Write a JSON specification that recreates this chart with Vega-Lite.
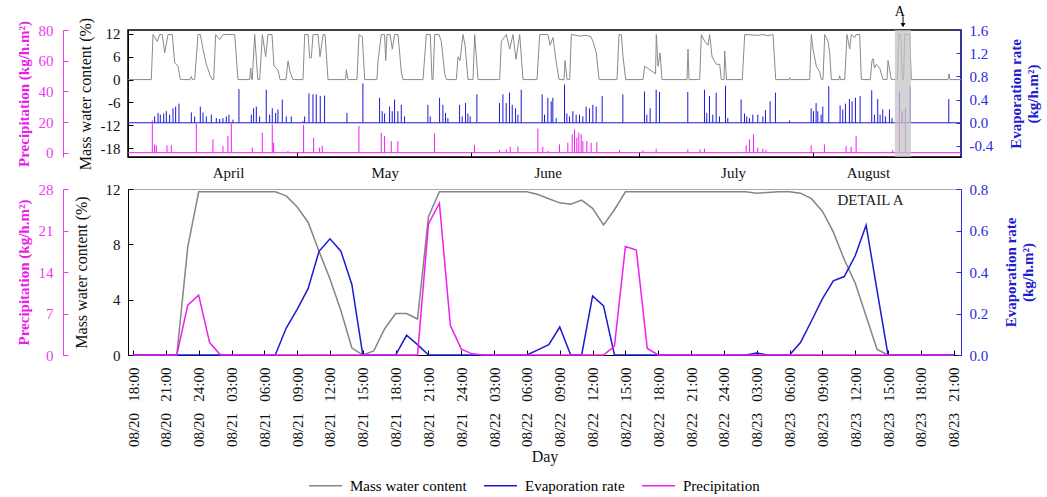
{
  "$schema": "https://vega.github.io/schema/vega-lite/v6.json",
  "padding": {"left": 15, "top": 4, "right": 5, "bottom": 5},
  "background": "white",
  "datasets": {
    "top_mass": [
      {"day":0,"mass":0},{"day":4.15,"mass":0},{"day":4.45,"mass":11.8},{"day":5.21,"mass":10},{"day":5.64,"mass":11.8},{"day":6.1,"mass":11.8},{"day":6.53,"mass":7},{"day":7.12,"mass":11.8},{"day":7.89,"mass":11.8},{"day":8.31,"mass":4.4},{"day":8.9,"mass":3.5},{"day":9.31,"mass":0},
      {"day":11.04,"mass":0},{"day":11.27,"mass":0.8},{"day":11.48,"mass":0},{"day":11.87,"mass":0},{"day":12.46,"mass":11.8},{"day":12.87,"mass":11.8},{"day":13.35,"mass":8},{"day":13.94,"mass":4},{"day":14.65,"mass":1},{"day":15.0,"mass":0},
      {"day":15.25,"mass":0},{"day":15.61,"mass":11.8},{"day":16.32,"mass":10.5},{"day":16.91,"mass":11.8},{"day":18.99,"mass":11.8},{"day":19.58,"mass":0},
      {"day":21.66,"mass":0},{"day":21.84,"mass":3},{"day":22.02,"mass":0},{"day":22.12,"mass":0},{"day":22.55,"mass":11.8},{"day":23.09,"mass":0},{"day":23.44,"mass":0},{"day":23.91,"mass":11.8},{"day":24.51,"mass":6},{"day":24.92,"mass":11.8},{"day":25.63,"mass":11.8},{"day":25.99,"mass":3.5},{"day":26.7,"mass":2.5},{"day":27.06,"mass":0},
      {"day":28.12,"mass":0},{"day":28.48,"mass":4.9},{"day":28.84,"mass":2},{"day":29.37,"mass":0},
      {"day":31.15,"mass":0},{"day":31.45,"mass":11.8},{"day":32.04,"mass":11.8},{"day":32.34,"mass":5.7},{"day":32.63,"mass":5.7},{"day":32.93,"mass":11.8},{"day":33.82,"mass":11.8},{"day":34.18,"mass":6},{"day":34.71,"mass":11.8},{"day":35.07,"mass":11.8},{"day":35.6,"mass":0},
      {"day":38.72,"mass":0},{"day":38.86,"mass":2.6},{"day":39.16,"mass":0},
      {"day":40.76,"mass":0},{"day":41.12,"mass":11.8},{"day":41.71,"mass":11.2},{"day":42.13,"mass":0},
      {"day":44.32,"mass":0},{"day":44.5,"mass":5},{"day":45.09,"mass":11.8},{"day":45.66,"mass":11.8},{"day":45.87,"mass":5},{"day":46.1,"mass":11.8},{"day":46.64,"mass":11.8},{"day":47.05,"mass":8},{"day":47.47,"mass":11.8},{"day":48.06,"mass":11.8},{"day":48.65,"mass":2},{"day":48.95,"mass":0},
      {"day":52.51,"mass":0},{"day":53.1,"mass":11.8},{"day":53.81,"mass":11.8},{"day":54.11,"mass":0},{"day":54.29,"mass":0},{"day":54.59,"mass":11.8},{"day":55.36,"mass":11.8},{"day":55.77,"mass":10},{"day":56.37,"mass":1.5},{"day":56.69,"mass":0},
      {"day":58.44,"mass":0},{"day":58.74,"mass":6},{"day":59.1,"mass":5},{"day":59.63,"mass":11.8},{"day":59.99,"mass":9},{"day":60.52,"mass":0},{"day":61.41,"mass":0},{"day":61.71,"mass":11.8},{"day":62.3,"mass":0},
      {"day":66.16,"mass":0},{"day":66.45,"mass":10},{"day":67.34,"mass":11.8},{"day":67.94,"mass":8},{"day":68.53,"mass":11.8},{"day":69.06,"mass":5.3},{"day":69.72,"mass":11.8},{"day":70.31,"mass":0},
      {"day":72.8,"mass":0},{"day":73.28,"mass":11.8},{"day":74.76,"mass":11.8},{"day":75.12,"mass":9},{"day":75.65,"mass":11},{"day":76.18,"mass":5},{"day":76.72,"mass":0},{"day":77.61,"mass":0},{"day":77.79,"mass":5},{"day":78.14,"mass":0},
      {"day":78.62,"mass":0},{"day":78.91,"mass":11.8},{"day":80.46,"mass":11.4},{"day":81.52,"mass":11.6},{"day":82.41,"mass":11.2},{"day":82.77,"mass":10},{"day":83.36,"mass":7},{"day":83.84,"mass":0},
      {"day":87.04,"mass":0},{"day":87.4,"mass":11.8},{"day":87.81,"mass":11.8},{"day":88.11,"mass":6},{"day":88.59,"mass":0},
      {"day":91.67,"mass":0},{"day":91.97,"mass":3.5},{"day":93.45,"mass":2},{"day":93.9,"mass":1.5},{"day":94.04,"mass":11.8},{"day":94.34,"mass":3.5},{"day":94.7,"mass":7},{"day":95.05,"mass":0},
      {"day":99.5,"mass":0},{"day":99.68,"mass":8},{"day":99.86,"mass":0},
      {"day":101.76,"mass":0},{"day":102.05,"mass":11.8},{"day":102.65,"mass":10},{"day":103.24,"mass":9},{"day":103.54,"mass":11.8},{"day":103.95,"mass":6},{"day":104.72,"mass":4},{"day":105.32,"mass":4},{"day":105.61,"mass":0},{"day":106.09,"mass":0},{"day":106.21,"mass":7.5},{"day":106.53,"mass":0},
      {"day":109.35,"mass":0},{"day":109.77,"mass":11.8},{"day":112.14,"mass":11.6},{"day":113.03,"mass":11.8},{"day":113.92,"mass":11.5},{"day":114.81,"mass":11.8},{"day":115.29,"mass":0},
      {"day":117.66,"mass":0},{"day":117.78,"mass":0.5},{"day":117.93,"mass":0},
      {"day":121.34,"mass":0},{"day":121.63,"mass":11.8},{"day":121.93,"mass":8},{"day":122.52,"mass":3.5},{"day":123.12,"mass":2},{"day":123.41,"mass":0},{"day":123.71,"mass":0},{"day":124.01,"mass":11.8},{"day":124.6,"mass":10},{"day":124.9,"mass":7},{"day":125.19,"mass":0},
      {"day":126.56,"mass":0},{"day":126.68,"mass":1},{"day":126.82,"mass":0},
      {"day":127.57,"mass":0},{"day":127.98,"mass":11.8},{"day":128.46,"mass":8},{"day":128.75,"mass":11.8},{"day":129.35,"mass":11},{"day":129.58,"mass":11.8},{"day":130.24,"mass":11.8},{"day":130.53,"mass":0},
      {"day":132.13,"mass":0},{"day":132.43,"mass":5},{"day":132.61,"mass":5.5},{"day":132.88,"mass":3},{"day":133.2,"mass":4},{"day":133.8,"mass":3},{"day":134.39,"mass":0},
      {"day":135.1,"mass":0},{"day":135.28,"mass":5},{"day":135.87,"mass":0},
      {"day":136.94,"mass":0},{"day":137.18,"mass":11.8},{"day":137.54,"mass":11.8},{"day":137.83,"mass":0},{"day":138.04,"mass":0},{"day":138.25,"mass":11.8},{"day":139.14,"mass":11.8},{"day":139.43,"mass":0},
      {"day":145.96,"mass":0},{"day":146.14,"mass":1.5},{"day":146.32,"mass":0},{"day":148.27,"mass":0}
    ],
    "top_evap": [
      {"day":4.74,"evap":0.11},{"day":5.34,"evap":0.17},{"day":5.75,"evap":0.14},{"day":6.35,"evap":0.16},{"day":6.82,"evap":0.2},{"day":7.41,"evap":0.14},{"day":8.01,"evap":0.25},{"day":8.48,"evap":0.28},{"day":9.07,"evap":0.33},
      {"day":11.27,"evap":0.18},{"day":11.86,"evap":0.11},{"day":12.87,"evap":0.28},{"day":13.35,"evap":0.18},{"day":13.94,"evap":0.11},{"day":14.83,"evap":0.14},{"day":15.72,"evap":0.08},{"day":16.31,"evap":0.065},{"day":16.9,"evap":0.08},{"day":17.5,"evap":0.11},{"day":17.97,"evap":0.14},{"day":18.68,"evap":0.054},{"day":19.75,"evap":0.58},
      {"day":21.95,"evap":0.14},{"day":22.36,"evap":0.25},{"day":22.84,"evap":0.28},{"day":23.43,"evap":0.11},{"day":24.61,"evap":0.57},{"day":25.21,"evap":0.14},{"day":25.68,"evap":0.25},{"day":26.28,"evap":0.17},{"day":26.69,"evap":0.23},{"day":27.46,"evap":0.4},{"day":28.17,"evap":0.11},{"day":29.06,"evap":0.11},
      {"day":31.14,"evap":0.025},{"day":31.44,"evap":0.11},{"day":32.21,"evap":0.51},{"day":32.92,"evap":0.49},{"day":33.51,"evap":0.49},{"day":34.22,"evap":0.46},{"day":34.99,"evap":0.47},
      {"day":38.97,"evap":0.17},{"day":41.81,"evap":0.68},{"day":44.78,"evap":0.43},{"day":45.25,"evap":0.2},{"day":45.67,"evap":0.16},{"day":46.56,"evap":0.28},{"day":47.03,"evap":0.2},{"day":47.45,"evap":0.4},{"day":48.04,"evap":0.2},{"day":48.64,"evap":0.31},{"day":49.23,"evap":0.11},
      {"day":53.38,"evap":0.31},{"day":53.8,"evap":0.11},{"day":55.46,"evap":0.43},{"day":56.05,"evap":0.31},{"day":56.52,"evap":0.17},{"day":56.94,"evap":0.08},{"day":59.02,"evap":0.31},{"day":59.49,"evap":0.11},{"day":60.08,"evap":0.34},{"day":60.5,"evap":0.16},{"day":60.91,"evap":0.11},{"day":62.1,"evap":0.49},
      {"day":66.13,"evap":0.34},{"day":66.73,"evap":0.49},{"day":67.32,"evap":0.34},{"day":67.91,"evap":0.52},{"day":68.39,"evap":0.31},{"day":68.98,"evap":0.25},{"day":69.4,"evap":0.14},{"day":69.99,"evap":0.57},
      {"day":73.72,"evap":0.49},{"day":74.14,"evap":0.14},{"day":74.73,"evap":0.43},{"day":75.33,"evap":0.37},{"day":75.62,"evap":0.43},{"day":76.22,"evap":0.08},{"day":77.7,"evap":0.66},{"day":78.11,"evap":0.16},{"day":78.59,"evap":0.11},{"day":79.18,"evap":0.2},{"day":79.77,"evap":0.14},{"day":80.37,"evap":0.14},{"day":80.96,"evap":0.11},{"day":81.55,"evap":0.28},{"day":82.15,"evap":0.25},{"day":82.74,"evap":0.31},{"day":83.33,"evap":0.28},{"day":84.4,"evap":0.46},
      {"day":88.08,"evap":0.49},{"day":91.93,"evap":0.54},{"day":92.35,"evap":0.14},{"day":92.94,"evap":0.25},{"day":94.01,"evap":0.57},{"day":94.6,"evap":0.53},{"day":99.64,"evap":0.53},
      {"day":102.61,"evap":0.57},{"day":103.02,"evap":0.17},{"day":103.5,"evap":0.46},{"day":104.09,"evap":0.14},{"day":104.69,"evap":0.52},{"day":105.28,"evap":0.11},{"day":106.35,"evap":0.64},{"day":106.76,"evap":0.08},
      {"day":109.13,"evap":0.4},{"day":109.73,"evap":0.16},{"day":110.14,"evap":0.11},{"day":110.62,"evap":0.08},{"day":111.21,"evap":0.14},{"day":112.1,"evap":0.14},{"day":113.0,"evap":0.11},{"day":113.46,"evap":0.22},{"day":114.29,"evap":0.37},{"day":115.24,"evap":0.52},{"day":117.73,"evap":0.04},
      {"day":121.6,"evap":0.25},{"day":122.01,"evap":0.2},{"day":122.48,"evap":0.34},{"day":122.78,"evap":0.2},{"day":123.37,"evap":0.14},{"day":123.67,"evap":0.28},{"day":124.73,"evap":0.63},
      {"day":126.75,"evap":0.3},{"day":127.22,"evap":0.23},{"day":127.7,"evap":0.33},{"day":128.41,"evap":0.41},{"day":128.88,"evap":0.37},{"day":129.48,"evap":0.43},{"day":130.31,"evap":0.46},
      {"day":132.38,"evap":0.56},{"day":132.86,"evap":0.14},{"day":133.45,"evap":0.41},{"day":133.87,"evap":0.14},{"day":134.34,"evap":0.23},{"day":134.82,"evap":0.11},{"day":135.53,"evap":0.23},{"day":136.0,"evap":0.08},
      {"day":137.31,"evap":0.54},{"day":137.78,"evap":0.2},{"day":138.38,"evap":0.25},{"day":139.21,"evap":0.63},{"day":146.09,"evap":0.41}
    ],
    "top_prec": [
      {"day":4.33,"prec":21},{"day":4.74,"prec":5.4},{"day":5.04,"prec":4.8},{"day":6.94,"prec":4.8},{"day":7.71,"prec":4.8},{"day":12.16,"prec":19},{"day":15.12,"prec":8.7},{"day":16.9,"prec":4.4},{"day":17.79,"prec":10.9},{"day":18.39,"prec":19},
      {"day":22.12,"prec":3.3},{"day":23.9,"prec":13},{"day":25.68,"prec":18.5},{"day":25.92,"prec":6.5},{"day":28.47,"prec":1.1},{"day":31.26,"prec":18},{"day":33.04,"prec":9.8},{"day":34.1,"prec":3.3},{"day":34.58,"prec":4.4},
      {"day":41.1,"prec":17.4},{"day":45.08,"prec":13},{"day":45.67,"prec":10.9},{"day":46.86,"prec":7.6},{"day":48.04,"prec":7.6},{"day":54.57,"prec":12.6},{"day":61.68,"prec":5},{"day":66.13,"prec":1.7},{"day":67.32,"prec":2.2},{"day":68.03,"prec":3.9},{"day":69.4,"prec":3.9},
      {"day":72.95,"prec":15.7},{"day":73.84,"prec":3.9},{"day":74.73,"prec":1.1},{"day":76.81,"prec":5.4},{"day":78.29,"prec":6.5},{"day":79.06,"prec":12},{"day":79.48,"prec":15.2},{"day":79.89,"prec":9.8},{"day":80.25,"prec":13},{"day":80.66,"prec":12},{"day":80.96,"prec":7.6},{"day":81.67,"prec":7.6},{"day":82.44,"prec":6.5},{"day":83.45,"prec":7},
      {"day":87.49,"prec":1.7},{"day":91.64,"prec":1.7},{"day":94.01,"prec":2.6},{"day":99.64,"prec":2.2},{"day":101.84,"prec":2.2},{"day":102.61,"prec":2.6},{"day":110.03,"prec":4.8},{"day":110.62,"prec":8.7},{"day":111.33,"prec":12},{"day":112.1,"prec":3.3},{"day":113.0,"prec":2.6},{"day":113.57,"prec":1.7},
      {"day":121.6,"prec":4.8},{"day":123.96,"prec":5.4},{"day":127.82,"prec":4.4},{"day":128.71,"prec":3.9},{"day":129.6,"prec":10.9},{"day":136.12,"prec":1.7},{"day":137.31,"prec":25.7},{"day":138.38,"prec":25.7}
    ],
    "detail_a": [
      {"hour":18,"mass":0,"evap":0,"prec":0},{"hour":19,"mass":0,"evap":0,"prec":0},{"hour":20,"mass":0,"evap":0,"prec":0},{"hour":21,"mass":0,"evap":0,"prec":0},{"hour":22,"mass":0,"evap":0,"prec":0},
      {"hour":23,"mass":7.8,"evap":0,"prec":8.4},{"hour":24,"mass":11.8,"evap":0,"prec":10.1},{"hour":25,"mass":11.8,"evap":0,"prec":2.1},{"hour":26,"mass":11.8,"evap":0,"prec":0},{"hour":27,"mass":11.8,"evap":0,"prec":0},
      {"hour":28,"mass":11.8,"evap":0,"prec":0},{"hour":29,"mass":11.8,"evap":0,"prec":0},{"hour":30,"mass":11.8,"evap":0,"prec":0},{"hour":31,"mass":11.8,"evap":0,"prec":0},{"hour":32,"mass":11.5,"evap":0.13,"prec":0},
      {"hour":33,"mass":10.7,"evap":0.22,"prec":0},{"hour":34,"mass":9.6,"evap":0.32,"prec":0},{"hour":35,"mass":7.5,"evap":0.5,"prec":0},{"hour":36,"mass":5.5,"evap":0.56,"prec":0},{"hour":37,"mass":3.2,"evap":0.5,"prec":0},
      {"hour":38,"mass":0.5,"evap":0.34,"prec":0},{"hour":39,"mass":0,"evap":0,"prec":0},{"hour":40,"mass":0.3,"evap":0,"prec":0},{"hour":41,"mass":1.9,"evap":0,"prec":0},{"hour":42,"mass":3.0,"evap":0,"prec":0},
      {"hour":43,"mass":3.0,"evap":0.095,"prec":0},{"hour":44,"mass":2.6,"evap":0.05,"prec":0},{"hour":45,"mass":10.0,"evap":0,"prec":22.1},{"hour":46,"mass":11.8,"evap":0,"prec":25.6},{"hour":47,"mass":11.8,"evap":0,"prec":5.0},
      {"hour":48,"mass":11.8,"evap":0,"prec":1.0},{"hour":49,"mass":11.8,"evap":0,"prec":0.2},{"hour":50,"mass":11.8,"evap":0,"prec":0},{"hour":51,"mass":11.8,"evap":0,"prec":0},{"hour":52,"mass":11.8,"evap":0,"prec":0},
      {"hour":53,"mass":11.8,"evap":0,"prec":0},{"hour":54,"mass":11.8,"evap":0,"prec":0},{"hour":55,"mass":11.6,"evap":0.025,"prec":0},{"hour":56,"mass":11.3,"evap":0.05,"prec":0},{"hour":57,"mass":11.0,"evap":0.135,"prec":0},
      {"hour":58,"mass":10.9,"evap":0,"prec":0},{"hour":59,"mass":11.2,"evap":0,"prec":0},{"hour":60,"mass":10.6,"evap":0.285,"prec":0},{"hour":61,"mass":9.4,"evap":0.237,"prec":0},{"hour":62,"mass":10.5,"evap":0,"prec":1.5},
      {"hour":63,"mass":11.8,"evap":0,"prec":18.3},{"hour":64,"mass":11.8,"evap":0,"prec":17.7},{"hour":65,"mass":11.8,"evap":0,"prec":1.1},{"hour":66,"mass":11.8,"evap":0,"prec":0},{"hour":67,"mass":11.8,"evap":0,"prec":0},
      {"hour":68,"mass":11.8,"evap":0,"prec":0},{"hour":69,"mass":11.8,"evap":0,"prec":0},{"hour":70,"mass":11.8,"evap":0,"prec":0},{"hour":71,"mass":11.8,"evap":0,"prec":0},{"hour":72,"mass":11.8,"evap":0,"prec":0},
      {"hour":73,"mass":11.8,"evap":0,"prec":0},{"hour":74,"mass":11.8,"evap":0,"prec":0},{"hour":75,"mass":11.7,"evap":0.01,"prec":0},{"hour":76,"mass":11.75,"evap":0,"prec":0},{"hour":77,"mass":11.8,"evap":0,"prec":0},
      {"hour":78,"mass":11.8,"evap":0,"prec":0},{"hour":79,"mass":11.7,"evap":0.06,"prec":0},{"hour":80,"mass":11.3,"evap":0.164,"prec":0},{"hour":81,"mass":10.4,"evap":0.27,"prec":0},{"hour":82,"mass":8.9,"evap":0.357,"prec":0},
      {"hour":83,"mass":6.9,"evap":0.378,"prec":0},{"hour":84,"mass":5.2,"evap":0.478,"prec":0},{"hour":85,"mass":2.8,"evap":0.626,"prec":0},{"hour":86,"mass":0.4,"evap":0.31,"prec":0},{"hour":87,"mass":0,"evap":0,"prec":0},
      {"hour":88,"mass":0,"evap":0,"prec":0},{"hour":89,"mass":0,"evap":0,"prec":0},{"hour":90,"mass":0,"evap":0,"prec":0},{"hour":91,"mass":0,"evap":0,"prec":0},{"hour":92,"mass":0,"evap":0,"prec":0},{"hour":93,"mass":0,"evap":0,"prec":0}
    ]
  },
  "vconcat": [
    {
      "width": 833,
      "height": 127,
      "view": {"stroke": "black", "strokeWidth": 1.5},
      "encoding": {
        "x": {
          "field": "day", "type": "quantitative",
          "scale": {"domain": [0, 148.27], "nice": false, "zero": false},
          "axis": {
            "title": null,
            "values": [17.8, 30, 45.7, 61, 74.7, 91, 107.7, 122, 131.7],
            "labelExpr": "datum.value == 17.8 ? 'April' : datum.value == 45.7 ? 'May' : datum.value == 74.7 ? 'June' : datum.value == 107.7 ? 'July' : datum.value == 131.7 ? 'August' : ''",
            "tickOpacity": {"condition": {"test": "datum.value == 30 || datum.value == 61 || datum.value == 91 || datum.value == 122", "value": 1}, "value": 0},
            "labelPadding": 13,
            "labelFlush": false,
            "labelOverlap": false
          }
        }
      },
      "layer": [
        {
          "data": {"name": "top_mass"},
          "mark": {"type": "line", "color": "#8a8a8a", "strokeWidth": 1},
          "encoding": {
            "y": {
              "field": "mass", "type": "quantitative",
              "scale": {"domain": [-20.3, 13], "nice": false, "zero": false},
              "axis": {"title": "Mass water content (%)", "values": [12, 6, 0, -6, -12, -18], "labelExpr": "replace(datum.label, '\u2212', '-')", "titlePadding": 7}
            }
          }
        },
        {
          "data": {"values": [{"day": 0, "evap": 0}, {"day": 148.27, "evap": 0}]},
          "mark": {"type": "line", "color": "#1a1ad6", "strokeWidth": 1},
          "encoding": {"y": {"field": "evap", "type": "quantitative", "scale": {"domain": [-0.59, 1.6], "nice": false, "zero": false}, "axis": null}}
        },
        {
          "data": {"name": "top_evap"},
          "mark": {"type": "rule", "color": "#1a1ad6", "strokeWidth": 1},
          "encoding": {
            "y": {
              "field": "evap", "type": "quantitative",
              "scale": {"domain": [-0.59, 1.6], "nice": false, "zero": false},
              "axis": {
                "orient": "right", "title": ["Evaporation rate", "(kg/h.m²)"], "titleAngle": 270,
                "titleFontWeight": "bold", "titleFontSize": 15, "titleColor": "#1c1cd0",
                "labelColor": "#2a2ae0", "domainColor": "#2a2ae0", "tickColor": "#2a2ae0",
                "values": [-0.4, 0, 0.4, 0.8, 1.2, 1.6], "format": ".1f",
                "labelExpr": "replace(datum.label, '\u2212', '-')", "titlePadding": 14
              }
            },
            "y2": {"datum": 0}
          }
        },
        {
          "data": {"values": [{"day": 0, "prec": 0}, {"day": 148.27, "prec": 0}]},
          "mark": {"type": "line", "color": "#f01ef0", "strokeWidth": 1},
          "encoding": {"y": {"field": "prec", "type": "quantitative", "scale": {"domain": [-2.8, 80], "nice": false, "zero": false}, "axis": null}}
        },
        {
          "data": {"name": "top_prec"},
          "mark": {"type": "rule", "color": "#f01ef0", "strokeWidth": 1},
          "encoding": {
            "y": {
              "field": "prec", "type": "quantitative",
              "scale": {"domain": [-2.8, 80], "nice": false, "zero": false},
              "axis": {
                "orient": "left", "offset": 65, "title": "Precipitation (kg/h.m²)",
                "titleFontWeight": "bold", "titleFontSize": 15, "titleColor": "#e81de8",
                "labelColor": "#ee3cee", "domainColor": "#ee3cee", "tickColor": "#ee3cee",
                "values": [0, 20, 40, 60, 80], "labelPadding": 15, "titlePadding": 7
              }
            },
            "y2": {"datum": 0}
          }
        },
        {
          "data": {"values": [{"day": 136.5, "day2": 139.35, "top": 13, "bottom": -20.3}]},
          "mark": {"type": "rect", "color": "#c4c4c4", "opacity": 0.75},
          "encoding": {
            "x2": {"field": "day2"},
            "y": {"field": "top", "type": "quantitative", "scale": {"domain": [-20.3, 13], "nice": false, "zero": false}, "axis": null},
            "y2": {"field": "bottom"}
          }
        },
        {
          "data": {"values": [{"day": 137.36, "mass": 17.6, "label": "A"}]},
          "mark": {"type": "text", "font": "Liberation Serif", "fontSize": 14, "color": "black"},
          "encoding": {
            "y": {"field": "mass", "type": "quantitative", "scale": {"domain": [-20.3, 13], "nice": false, "zero": false}, "axis": null},
            "text": {"field": "label"}
          }
        },
        {
          "data": {"values": [{"day": 137.95, "mass": 16.6, "mass2": 14.6}]},
          "mark": {"type": "rule", "color": "black", "strokeWidth": 1},
          "encoding": {
            "y": {"field": "mass", "type": "quantitative", "scale": {"domain": [-20.3, 13], "nice": false, "zero": false}, "axis": null},
            "y2": {"field": "mass2"}
          }
        },
        {
          "data": {"values": [{"day": 137.95, "mass": 14.3}]},
          "mark": {"type": "point", "shape": "triangle-down", "filled": true, "color": "black", "size": 25, "opacity": 1},
          "encoding": {
            "y": {"field": "mass", "type": "quantitative", "scale": {"domain": [-20.3, 13], "nice": false, "zero": false}, "axis": null}
          }
        }
      ],
      "resolve": {"scale": {"y": "independent"}}
    },
    {
      "width": 833,
      "height": 166,
      "view": {"stroke": "#a8a8a8", "strokeWidth": 1},
      "data": {"name": "detail_a"},
      "encoding": {
        "x": {
          "field": "hour", "type": "quantitative",
          "scale": {"domain": [17.54, 93.67], "nice": false, "zero": false},
          "axis": {
            "title": "Day", "titleFontSize": 16, "titlePadding": 2,
            "values": [18,21,24,27,30,33,36,39,42,45,48,51,54,57,60,63,66,69,72,75,78,81,84,87,90,93],
            "labelAngle": 270,
            "labelExpr": "datum.value % 24 == 0 ? '08/' + (19 + floor(datum.value / 24)) + '\u00a0\u00a0\u00a024:00' : '08/' + (20 + floor(datum.value / 24)) + '\u00a0\u00a0\u00a0' + (datum.value % 24 < 10 ? '0' : '') + (datum.value % 24) + ':00'",
            "labelPadding": 17,
            "labelFlush": false,
            "labelOverlap": false
          }
        }
      },
      "layer": [
        {
          "mark": {"type": "line", "strokeWidth": 1.5},
          "encoding": {
            "y": {
              "field": "mass", "type": "quantitative",
              "scale": {"domain": [0, 12], "nice": false, "zero": false},
              "axis": {"title": "Mass water content (%)", "values": [0, 4, 8, 12], "titlePadding": 16}
            },
            "color": {
              "datum": "Mass water content", "type": "nominal",
              "scale": {"domain": ["Mass water content", "Evaporation rate", "Precipitation"], "range": ["#858585", "#1a1ad0", "#f01ef0"]},
              "legend": {"title": null, "orient": "none", "legendX": 180, "legendY": 438, "direction": "horizontal", "symbolType": "stroke", "symbolSize": 1089, "symbolStrokeWidth": 1.5, "labelFontSize": 15, "labelColor": "black", "columnPadding": 14, "labelOffset": 7}
            }
          }
        },
        {
          "mark": {"type": "line", "strokeWidth": 1.5},
          "encoding": {
            "y": {
              "field": "evap", "type": "quantitative",
              "scale": {"domain": [0, 0.8], "nice": false, "zero": false},
              "axis": {
                "orient": "right", "title": ["Evaporation rate", "(kg/h.m²)"], "titleAngle": 270,
                "titleFontWeight": "bold", "titleFontSize": 15, "titleColor": "#1c1cd0",
                "labelColor": "#2a2ae0", "domainColor": "#2a2ae0", "tickColor": "#2a2ae0",
                "values": [0, 0.2, 0.4, 0.6, 0.8], "format": ".1f", "titlePadding": 14
              }
            },
            "color": {"datum": "Evaporation rate", "type": "nominal"}
          }
        },
        {
          "mark": {"type": "line", "strokeWidth": 1.5},
          "encoding": {
            "y": {
              "field": "prec", "type": "quantitative",
              "scale": {"domain": [0, 28], "nice": false, "zero": false},
              "axis": {
                "orient": "left", "offset": 65, "title": "Precipitation (kg/h.m²)",
                "titleFontWeight": "bold", "titleFontSize": 15, "titleColor": "#e81de8",
                "labelColor": "#ee3cee", "domainColor": "#ee3cee", "tickColor": "#ee3cee",
                "values": [0, 7, 14, 21, 28], "labelPadding": 15, "titlePadding": 7
              }
            },
            "color": {"datum": "Precipitation", "type": "nominal"}
          }
        },
        {
          "data": {"values": [{"hour": 85.4, "mass": 11.2, "label": "DETAIL A"}]},
          "mark": {"type": "text", "font": "Liberation Serif", "fontSize": 15, "color": "#222222"},
          "encoding": {
            "y": {"field": "mass", "type": "quantitative", "scale": {"domain": [0, 12], "nice": false, "zero": false}, "axis": null},
            "text": {"field": "label"}
          }
        }
      ],
      "resolve": {"scale": {"y": "independent"}}
    }
  ],
  "spacing": 0,
  "config": {
    "font": "Liberation Serif",
    "axis": {
      "labelFont": "Liberation Serif", "titleFont": "Liberation Serif",
      "labelFontSize": 15, "titleFontSize": 16, "titleFontWeight": "normal",
      "labelColor": "#111111", "titleColor": "#111111",
      "domainColor": "black", "tickColor": "black",
      "tickSize": -5, "labelPadding": 13, "grid": false
    },
    "legend": {"labelFont": "Liberation Serif"}
  }
}
